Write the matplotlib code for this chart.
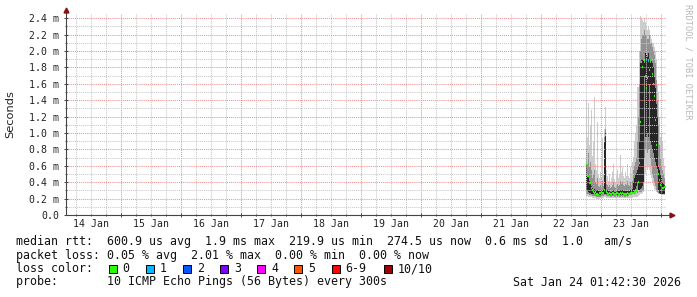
import datetime as dt
import matplotlib
matplotlib.use("Agg")
import matplotlib.pyplot as plt
import matplotlib.dates as mdates
from matplotlib.patches import Rectangle

# smokeping style latency graph, values in ms, one column per 24 min
t_start = dt.datetime(2026, 1, 22, 18, 0)
step = dt.timedelta(minutes=24)

lo = [.23, .23, .22, .22, .22, .22, .21, .21, .21, .21,
      .20, .20, .20, .20, .21, .21, .21, .21, .22, .22,
      .21, .21, .21, .21, .21, .21, .21, .21, .21, .21,
      .21, .21, .21, .21, .21, .21, .21, .21, .21, .21,
      .21, .21, .21, .21, .21, .21, .21, .22, .22, .22,
      .22, .22, .23, .24, .25, .26, .27, .28, .40, .50,
      .60, .55, .60, .55, .50, .45, .40, .35, .32, .30,
      .28, .27, .26, .25, .25, .24, .24, .24, .24, .24]
mid_lo = [.25, .25, .25, .24, .24, .24, .23, .23, .23, .23,
          .22, .22, .22, .22, .22, .23, .23, .23, .24, .24,
          .23, .23, .23, .23, .22, .22, .23, .23, .22, .22,
          .23, .22, .23, .22, .22, .23, .22, .23, .22, .22,
          .23, .22, .23, .24, .24, .25, .25, .25, .26, .27,
          .28, .30, .30, .28, .28, .28, .29, .30, .70, .80,
          .80, .75, .80, .80, .70, .60, .50, .45, .40, .35,
          .30, .28, .27, .26, .26, .26, .26, .26, .26, .26]
core_lo = [.30, .29, .28, .27, .27, .26, .26, .25, .25, .25,
           .24, .24, .24, .24, .24, .25, .25, .25, .26, .26,
           .25, .25, .25, .24, .24, .24, .24, .25, .24, .24,
           .24, .24, .25, .24, .24, .24, .24, .25, .24, .24,
           .25, .24, .25, .26, .27, .28, .28, .28, .30, .32,
           .35, .40, .30, .30, .32, .33, .35, .40, 1.70, .95,
           .95, 1.00, .95, 1.60, .90, .85, .80, .75, .70, .65,
           .60, .55, .30, .27, .26, .26, .26, .26, .26, .26]
core_hi = [.62, .48, .50, .42, .40, .35, .33, .31, .32, .30,
           .30, .30, .29, .29, .30, .30, .30, .30, .90, 1.00,
           .31, .30, .29, .29, .28, .28, .29, .30, .28, .28,
           .29, .30, .29, .29, .31, .30, .30, .29, .29, .30,
           .29, .31, .29, .29, .30, .30, .32, .40, .45, .50,
           .51, .55, .60, .90, 1.85, 1.90, 1.90, 1.88, 1.85, 1.97,
           1.95, 1.92, 1.97, 1.90, 1.85, 1.88, 1.85, 1.80, 1.70, 1.55,
           1.35, 1.20, .58, .55, .50, .45, .40, .38, .36, .36]
mid_hi = [.80, .62, .75, .58, .65, .55, .45, .50, .55, .40,
          .38, .45, .35, .34, .36, .34, .42, .35, .95, 1.05,
          .38, .36, .34, .36, .33, .34, .36, .40, .34, .33,
          .36, .38, .35, .36, .42, .38, .40, .36, .35, .38,
          .36, .42, .36, .35, .40, .36, .42, .55, .60, .65,
          .70, .90, 1.20, 1.60, 2.00, 2.15, 2.20, 2.20, 2.25, 2.20,
          2.20, 2.15, 2.15, 2.20, 2.10, 2.10, 2.05, 2.00, 1.95, 1.85,
          1.65, 1.40, 1.10, .85, .70, .60, .55, .50, .45, .42]
hi = [1.40, .95, 1.36, .85, 1.10, 1.28, .72, .90, 1.44, .62,
      .55, 1.13, .50, .45, .52, .45, .94, .50, 1.05, 1.32,
      .55, .48, .42, .50, .40, .45, .52, .62, .44, .40,
      .48, .55, .45, .50, .73, .52, .58, .48, .45, .52,
      .48, .62, .47, .45, .58, .50, .65, .71, .90, 1.00,
      1.10, 1.56, 1.56, 2.00, 2.43, 2.40, 2.38, 2.35, 2.40, 2.35,
      2.30, 2.25, 2.30, 2.25, 2.20, 2.15, 2.10, 2.10, 2.05, 2.00,
      1.90, 1.60, 1.50, 1.20, .95, 1.00, .90, .70, .60, .55]
median = [.62, .47, .47, .39, .39, .33, .30, .28, .27, .28,
          .25, .26, .24, .27, .27, .28, .27, .27, .30, .98,
          .28, .27, .26, .27, .26, .26, .27, .27, .26, .26,
          .27, .27, .26, .26, .27, .26, .27, .26, .26, .26,
          .26, .27, .26, .26, .27, .26, .27, .27, .28, .27,
          .29, .28, .40, .63, 1.13, 1.86, 1.80, 1.95, 1.88, 1.70,
          1.55, 1.67, 1.88, 1.77, 1.89, 1.93, 1.72, 1.60, 1.45, 1.16,
          .85, .55, .50, .43, .36, .30, .33, .33, .34, .34]
loss = [0] * 80
loss[51] = 1
loss[62] = 1

loss_levels = ["0", "1", "2", "3", "4", "5", "6-9", "10/10"]
loss_colors = ["#26ff00", "#00b8ff", "#0059ff", "#7e00ff",
               "#ff00ff", "#ff5500", "#ff0000", "#a10000"]

y_ticks = [0.0, 0.2, 0.4, 0.6, 0.8, 1.0, 1.2, 1.4, 1.6, 1.8, 2.0, 2.2, 2.4]

rtt_line = "median rtt:  600.9 us avg  1.9 ms max  219.9 us min  274.5 us now  0.6 ms sd  1.0   am/s"
loss_line = "packet loss: 0.05 % avg  2.01 % max  0.00 % min  0.00 % now"
probe_line = "probe:       10 ICMP Echo Pings (56 Bytes) every 300s"
stamp = "Sat Jan 24 01:42:30 2026"

W, H = 697, 297
MONO = "DejaVu Sans Mono"

times = [t_start + i * step for i in range(len(median))]

fig = plt.figure(figsize=(W / 100, H / 100), dpi=100, facecolor="white")
ax = fig.add_axes([65.5 / W, (H - 215) / H, 600 / W, 201 / H])
ax.set_facecolor("white")

# smoke
ax.fill_between(times, lo, hi, step="mid", color="#cdcdcd", lw=0, zorder=1)
ax.fill_between(times, mid_lo, mid_hi, step="mid", color="#929292", lw=0, zorder=1.1)
ax.fill_between(times, core_lo, core_hi, step="mid", color="#262626", lw=0, zorder=1.2)

# median, coloured by loss
for t, m, l in zip(times, median, loss):
    ax.plot([t - step * 0.6, t + step * 0.6], [m, m], color=loss_colors[l],
            lw=1.6, solid_capstyle="butt", zorder=4)

t_end = dt.datetime(2026, 1, 24, 1, 42, 30)
ax.set_xlim(t_end - dt.timedelta(days=10), t_end)
ax.set_ylim(0, 2.45)

ax.xaxis.set_major_locator(mdates.DayLocator())
ax.xaxis.set_minor_locator(mdates.HourLocator(byhour=[6, 12, 18]))
ax.set_yticks(y_ticks)
ax.set_yticks([v + 0.1 for v in y_ticks[:-1]], minor=True)
ax.set_yticklabels(["0.0"] + ["%.1f m" % v for v in y_ticks[1:]],
                   family=MONO, fontsize=7.1, color="#222222")
ax.set_xticklabels([])

ax.set_axisbelow(False)
dots = (0, (1, 1))
ax.grid(which="major", color="#f09090", lw=0.75, ls=dots, zorder=2)
ax.grid(which="minor", color="#c8c8c8", lw=0.75, ls=dots, zorder=2)
ax.tick_params(which="major", direction="inout", length=3, width=0.7,
               color="#444444", pad=3)
ax.tick_params(which="minor", direction="inout", length=2, width=0.7,
               color="#444444")

for s in ax.spines.values():
    s.set_visible(False)

# axis lines with small arrows
ax.plot([0, 0], [0, 1.02], transform=ax.transAxes, color="#444444", lw=0.8,
        clip_on=False, zorder=5)
ax.plot([0, 1.008], [0, 0], transform=ax.transAxes, color="#444444", lw=0.8,
        clip_on=False, zorder=5)
ax.plot(0, 1.02, marker="^", ms=3.5, color="#8a1010", transform=ax.transAxes,
        clip_on=False, zorder=6)
ax.plot(1.011, 0, marker=">", ms=3.5, color="#8a1010", transform=ax.transAxes,
        clip_on=False, zorder=6)

# day labels centred on noon
for d in range(14, 24):
    ax.text(dt.datetime(2026, 1, d, 12), -0.02, "%d Jan" % d, ha="center", va="top",
            family=MONO, fontsize=7.1, color="#222222",
            transform=ax.get_xaxis_transform())


def px(x, y):
    return x / W, 1 - y / H


fig.text(*px(10, 114), "Seconds", rotation=90, ha="center", va="center",
         family="DejaVu Sans", fontsize=8.2, color="#222222")
fig.text(*px(688, 4), "RRDTOOL / TOBI OETIKER", rotation=-90, ha="center",
         va="top", family=MONO, fontsize=6.2, color="#b8b8b8")

txt = dict(family=MONO, fontsize=8.4, color="#111111", va="center", ha="left")
fig.text(*px(16, 241), rtt_line, **txt)
fig.text(*px(16, 255), loss_line, **txt)
fig.text(*px(16, 269), "loss color:", **txt)
fig.text(*px(16, 282), probe_line, **txt)
fig.text(*px(681, 282), stamp, **dict(txt, ha="right"))

bx = 108.5
for lab, col in zip(loss_levels, loss_colors):
    fig.add_artist(Rectangle(px(bx, 273), 8 / W, 8 / H, facecolor=col,
                             edgecolor="black", lw=0.7, transform=fig.transFigure))
    fig.text(*px(bx + 14, 269), lab, **txt)
    bx += 22.2 + 7.5 * (len(lab) + 1)

fig.savefig("out.png", dpi=100, facecolor="white")
